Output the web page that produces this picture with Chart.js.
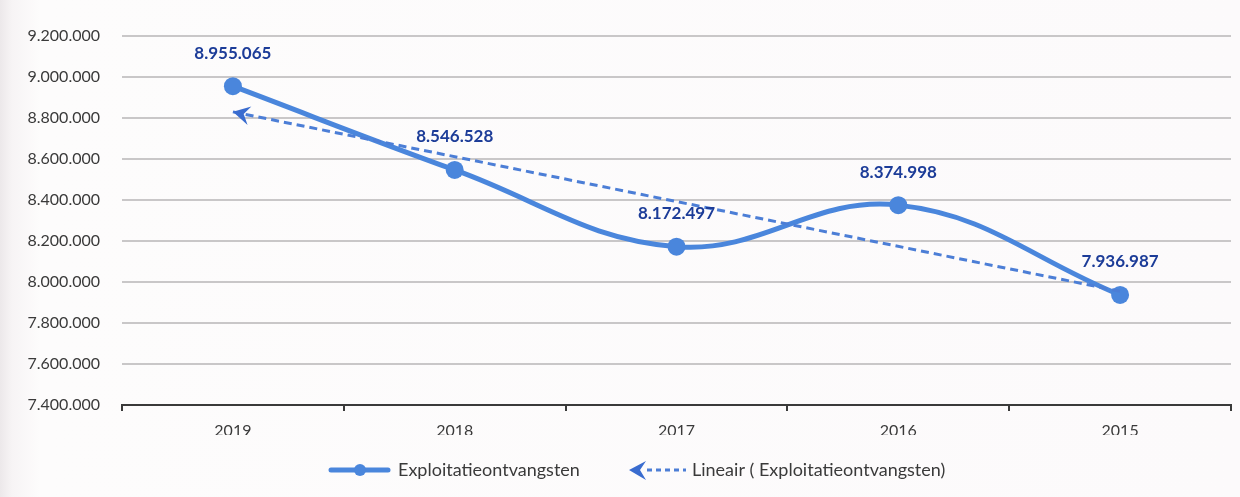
<!DOCTYPE html>
<html>
<head>
<meta charset="utf-8">
<script src="https://cdn.jsdelivr.net/npm/chart.js@4/dist/chart.umd.min.js"></script>
<style>
  html, body { margin: 0; padding: 0; }
  body { width: 1240px; height: 497px; background: linear-gradient(to right, #ece8ea 0px, #f7f4f5 12px, #fdfcfc 40px, #fcfafb 100%); overflow: hidden; }
  #wrap { position: relative; width: 1240px; height: 497px; }
</style>
</head>
<body>
<div id="wrap"><canvas id="chart" width="1240" height="497"></canvas></div>
<script>
// data
const years = ['2019', '2018', '2017', '2016', '2015'];
const ontvangsten = [8955065, 8546528, 8172497, 8374998, 7936987];
const trendLijn = [8830000, null, null, null, 7955000];
const seriesName = 'Exploitatieontvangsten';
const trendName = 'Lineair ( Exploitatieontvangsten)';
const yMin = 7400000, yMax = 9200000, yStep = 200000;

const lineBlue = '#4a86dc';
const dashBlue = '#4c7ed6';
const labelBlue = '#1c3c98';

function fmt(v) {
    return String(v).replace(/\B(?=(\d{3})+(?!\d))/g, '.');
}

function drawArrow(ctx, x, y, angle, color) {
    ctx.save();
    ctx.translate(x, y);
    ctx.rotate(angle);
    ctx.fillStyle = color;
    ctx.beginPath();
    ctx.moveTo(0, 0);
    ctx.lineTo(17, -9);
    ctx.lineTo(11, 0);
    ctx.lineTo(17, 10);
    ctx.closePath();
    ctx.fill();
    ctx.restore();
}

// labels boven de punten + pijl aan begin van trendlijn
const extrasPlugin = {
    id: 'extras',
    afterDatasetsDraw(chart) {
        const ctx = chart.ctx;
        const tr = chart.getDatasetMeta(0).data;
        const a = tr[0], b = tr[tr.length - 1];
        drawArrow(ctx, a.x, a.y, Math.atan2(b.y - a.y, b.x - a.x), '#3a6ccf');

        const pts = chart.getDatasetMeta(1).data;
        ctx.save();
        ctx.font = 'bold 17px Lato';
        ctx.fillStyle = labelBlue;
        ctx.textAlign = 'center';
        ctx.textBaseline = 'middle';
        pts.forEach((p, i) => {
            ctx.fillText(fmt(ontvangsten[i]), p.x, p.y - 33);
        });
        ctx.restore();
    },
    afterDraw(chart) {
        // legenda onderaan
        const ctx = chart.ctx;
        const y = 470;
        ctx.save();
        ctx.strokeStyle = lineBlue;
        ctx.lineWidth = 5;
        ctx.lineCap = 'round';
        ctx.beginPath();
        ctx.moveTo(331, y);
        ctx.lineTo(388, y);
        ctx.stroke();
        ctx.fillStyle = lineBlue;
        ctx.beginPath();
        ctx.arc(360, y, 6, 0, Math.PI * 2);
        ctx.fill();

        drawArrow(ctx, 629, y, 0, '#3a6ccf');
        ctx.strokeStyle = dashBlue;
        ctx.lineWidth = 3;
        ctx.lineCap = 'butt';
        ctx.setLineDash([5, 4]);
        ctx.beginPath();
        ctx.moveTo(647, y);
        ctx.lineTo(686, y);
        ctx.stroke();
        ctx.setLineDash([]);

        ctx.font = '18px Lato';
        ctx.fillStyle = '#3a3a3a';
        ctx.textBaseline = 'middle';
        ctx.textAlign = 'left';
        ctx.fillText(seriesName, 398, y);
        ctx.fillText(trendName, 692, y);
        ctx.restore();
    }
};

new Chart(document.getElementById('chart'), {
    type: 'line',
    data: {
        labels: years,
        datasets: [
            {
                label: trendName,
                data: trendLijn,
                borderColor: dashBlue,
                borderWidth: 3,
                borderDash: [8, 5],
                pointRadius: 0,
                spanGaps: true,
                tension: 0,
                order: 1
            },
            {
                label: seriesName,
                data: ontvangsten,
                borderColor: lineBlue,
                backgroundColor: lineBlue,
                borderWidth: 5,
                pointRadius: 9,
                pointBackgroundColor: lineBlue,
                pointBorderWidth: 0,
                tension: 0.4,
                order: 2
            }
        ]
    },
    options: {
        responsive: false,
        animation: false,
        layout: { padding: { top: 36, right: 8, bottom: 62, left: 0 } },
        plugins: {
            legend: { display: false },
            tooltip: { enabled: false }
        },
        scales: {
            x: {
                offset: true,
                afterFit: s => { s.height = 30; },
                border: { display: true, color: '#3a3a3a', width: 2 },
                grid: { display: true, drawOnChartArea: false, drawTicks: true, tickLength: 6, color: '#3a3a3a', lineWidth: 2, offset: true },
                ticks: { font: { family: 'Lato', size: 16 }, color: '#3a3a3a', padding: 10 }
            },
            y: {
                min: yMin,
                max: yMax,
                afterFit: s => { s.width = 122; },
                border: { display: false },
                grid: { color: '#c9c7c8', lineWidth: 2, drawTicks: false },
                ticks: {
                    stepSize: yStep,
                    padding: 22,
                    font: { family: 'Lato', size: 16 },
                    color: '#3a3a3a',
                    callback: v => fmt(v)
                }
            }
        }
    },
    plugins: [extrasPlugin]
});
</script>
</body>
</html>
